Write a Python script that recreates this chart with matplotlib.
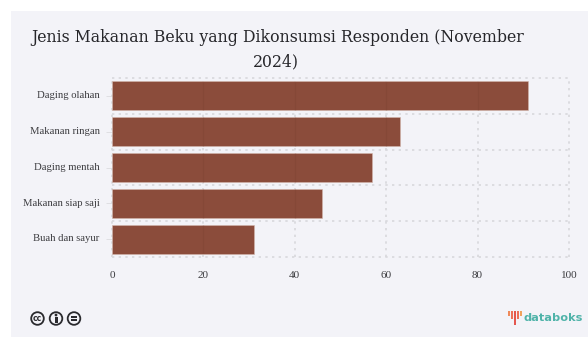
import numpy as np
from matplotlib import pyplot as plt
from matplotlib.patches import Circle, Rectangle
from matplotlib.transforms import ScaledTranslation

# DATA
categories = ["Daging olahan", "Makanan ringan", "Daging mentah", "Makanan siap saji", "Buah dan sayur"]
values = [91, 63, 57, 46, 31]
xticks = [0, 20, 40, 60, 80, 100]
logo_heights = [5, 8, 14, 8, 5]

W, H = 588, 337
BG = "#f3f3f8"
BAR = "#8b4c3b"
GRID = "#d8d8dc"
DOTS = (0, (1.4, 2.6))

fig = plt.figure(figsize=(W / 100, H / 100), dpi=100, facecolor="white")

# full-figure layer in pixel coordinates, y going down
bg = fig.add_axes([0, 0, 1, 1])
bg.set_xlim(0, W)
bg.set_ylim(H, 0)
bg.axis("off")
bg.add_patch(Rectangle((11, 11), W - 11, H - 11, color=BG, lw=0))

bg.text(278, 38, "Jenis Makanan Beku yang Dikonsumsi Responden (November", ha="center", va="center",
        family="DejaVu Serif", fontsize=11.35, color="#26262a")
bg.text(276, 62, "2024)", ha="center", va="center", family="DejaVu Serif", fontsize=11.35, color="#26262a")

# chart area
ax = fig.add_axes([112 / W, 1 - 257 / H, (569 - 112) / W, (257 - 78) / H])
ax.set_facecolor("none")
ax.barh(range(len(categories)), values, height=0.81, color=BAR, edgecolor="#d2b6ac", linewidth=0.4, zorder=2)
ax.set_xlim(0, 100)
ax.set_ylim(len(categories) - 0.5, -0.5)
for s in ax.spines.values():
    s.set_visible(False)

# dotted grid behind the bars
for x in xticks:
    ax.axvline(x, color=GRID, lw=1.2, ls=DOTS, zorder=1, clip_on=False)
for y in np.arange(len(categories) + 1) - 0.5:
    ax.axhline(y, color=GRID, lw=1.2, ls=DOTS, zorder=1, clip_on=False)

# the vertical grid shows through the bars as a slightly darker line
for i, v in enumerate(values):
    for x in xticks[1:]:
        if x < v:
            ax.vlines(x, i - 0.4, i + 0.4, color="#7a3f30", lw=1.0, alpha=0.3, zorder=3)

ax.set_xticks(xticks)
ax.set_yticks(range(len(categories)))
ax.set_yticklabels(categories, family="Liberation Serif", fontsize=7.7, color="#3c3c40")
ax.set_xticklabels(xticks, family="Liberation Serif", fontsize=8, color="#3c3c40")
ax.tick_params(axis="x", length=0, pad=10)
ax.tick_params(axis="y", length=4, width=0.6, color="#dcdce0", pad=5)

# nudge the category labels up a little
up = ScaledTranslation(0, 1.2 / 100, fig.dpi_scale_trans)
for lab in ax.get_yticklabels():
    lab.set_transform(lab.get_transform() + up)

# licence badges
INK = "#2a2a2e"
for cx in [37.5, 56, 74]:
    bg.add_patch(Circle((cx, 318.5), 6.3, fc="none", ec=INK, lw=1.3))
bg.text(37.5, 318.3, "cc", ha="center", va="center", fontsize=5.5, fontweight="bold", color=INK)
bg.add_patch(Circle((56, 315), 1.4, color=INK, lw=0))
bg.add_patch(Rectangle((54.5, 317), 3, 5.5, color=INK, lw=0))
bg.add_patch(Rectangle((71, 316.4), 6, 1.4, color=INK, lw=0))
bg.add_patch(Rectangle((71, 319.3), 6, 1.4, color=INK, lw=0))

# logo
logo_colors = ["#ef8a5a", "#ec7058", "#e4574f", "#ec7058", "#f0a25c"]
for i, (h, c) in enumerate(zip(logo_heights, logo_colors)):
    px = 507.5 + i * 3.0
    bg.add_patch(Rectangle((px, 311), 2.0, h, color=c, lw=0))
bg.text(523.5, 317.8, "databoks", ha="left", va="center", family="DejaVu Sans", fontsize=8.2,
        fontweight="bold", color="#4fb3a9")

fig.savefig("out.png", dpi=100, facecolor=fig.get_facecolor())
